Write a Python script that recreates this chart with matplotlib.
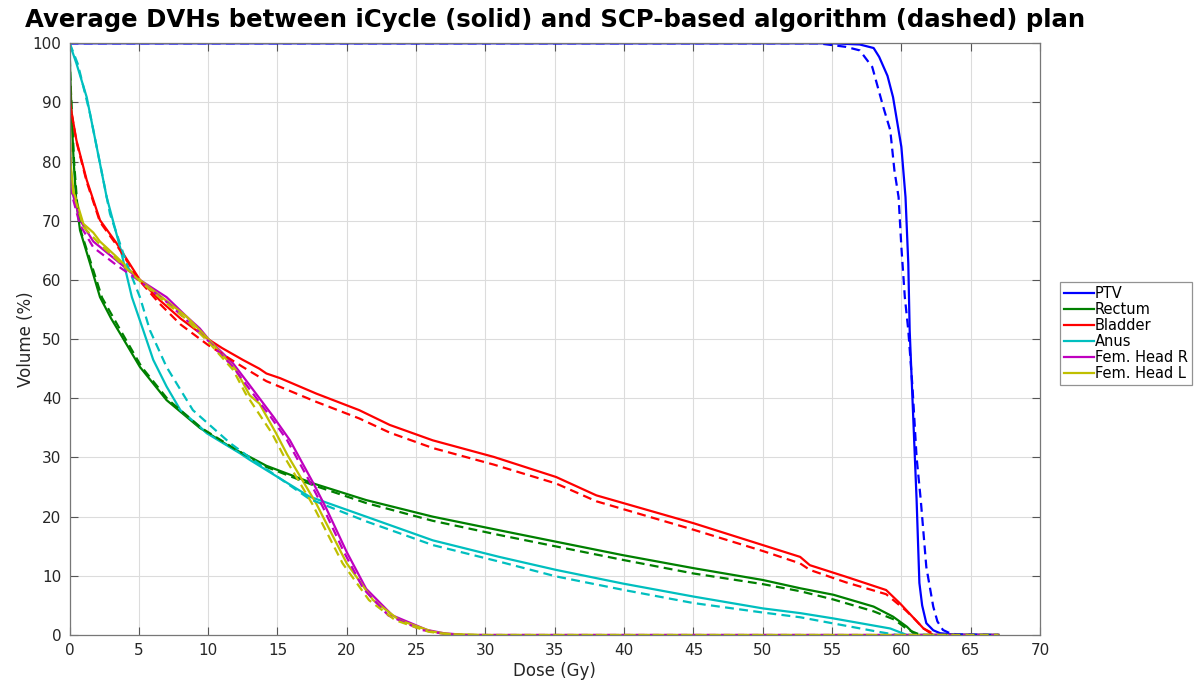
import matplotlib
matplotlib.use("Agg")
import matplotlib.pyplot as plt

# ---------------- data (dose in Gy, volume in %) ----------------
ptv_solid_x = [0, 55, 57, 58, 58.4, 59.0, 59.4, 60.0, 60.3, 60.5, 60.6, 60.8, 61.1, 61.3, 61.5, 61.8, 62.3, 62.8, 64, 67]
ptv_solid_y = [100, 100, 99.8, 99.2, 97.7, 94.5, 90.9, 82.5, 74, 62.8, 51.5, 40, 22.8, 8.8, 5, 2.0, 0.8, 0.3, 0.05, 0]
ptv_dash_x = [0, 54, 55, 56, 57, 57.9, 58.7, 59.2, 59.5, 59.8, 60.0, 60.25, 60.5, 60.8, 61.1, 61.4, 61.8, 62.3, 62.6, 63.0, 63.5, 64, 67]
ptv_dash_y = [100, 100, 99.7, 99.4, 98.8, 96, 89.2, 85.3, 78.5, 74, 65.6, 57.1, 51.5, 42, 30, 22.8, 11.5, 4.8, 2.3, 0.85, 0.3, 0.1, 0]

rect_solid_x = [0, 0.05, 0.15, 0.3, 0.5, 0.76, 1.48, 2.2, 3.0, 3.64, 5.08, 7.0, 9.4, 11.8, 13.0, 14.2, 17.6, 21.4, 26.2, 31.0, 34.6, 39.9, 45.0, 50.0, 52.7, 55.1, 58.0, 59.4, 60.4, 61.0, 67]
rect_solid_y = [100, 95, 88, 80, 73, 68.4, 62.8, 57.1, 53.5, 51, 45.3, 39.7, 35.0, 31.5, 30.1, 28.6, 25.6, 22.8, 20.0, 17.7, 16.0, 13.5, 11.3, 9.3, 7.9, 6.8, 4.8, 3.1, 1.4, 0, 0]
rect_dash_x = [0, 0.05, 0.17, 0.33, 0.55, 0.85, 1.6, 2.35, 3.8, 5.2, 7.1, 9.5, 11.9, 14.2, 17.6, 21.4, 26.2, 31.0, 34.6, 39.9, 45, 50, 52.7, 55.1, 58, 59.5, 60.5, 61.3, 61.7, 67]
rect_dash_y = [100, 95, 88, 80, 73, 68, 62.5, 57, 51, 45.3, 39.8, 35, 31.5, 28.4, 25.3, 22.3, 19.3, 16.9, 15.2, 12.7, 10.4, 8.6, 7.4, 6.0, 4.0, 2.6, 0.85, 0.1, 0, 0]

blad_solid_x = [0, 0.05, 0.16, 0.5, 1.24, 2.2, 3.4, 5.08, 6.5, 8.0, 10.0, 11.0, 12.5, 13.7, 14.2, 15.2, 17.8, 20.9, 23.1, 26.2, 30.6, 35.1, 38.0, 45, 50, 52.7, 53.4, 56, 58.9, 59.9, 60.8, 61.6, 62.3, 67]
blad_solid_y = [100, 90, 88.2, 83.6, 76.9, 70.1, 66.2, 60.0, 56.6, 53.5, 50.0, 48.5, 46.5, 45.0, 44.2, 43.4, 40.8, 38.0, 35.5, 32.9, 30.1, 26.7, 23.6, 18.9, 15.2, 13.2, 11.8, 9.85, 7.6, 5.35, 3.1, 1.1, 0, 0]
blad_dash_x = [0, 0.05, 0.16, 0.5, 1.24, 2.2, 3.4, 5.08, 6.5, 8.0, 10.0, 12.5, 14.2, 17.8, 20.9, 23.1, 26.2, 30.6, 35.1, 38.0, 45, 50, 52.7, 53.4, 56, 58.9, 60.3, 61.0, 61.6, 62.5, 67]
blad_dash_y = [100, 90, 88, 83.4, 76.6, 69.8, 65.9, 59.8, 56.0, 52.5, 49.0, 45.3, 42.9, 39.4, 36.6, 34.2, 31.6, 28.8, 25.6, 22.6, 17.8, 14.2, 12.1, 11.0, 8.9, 6.9, 4.2, 2.6, 1.1, 0, 0]

anus_solid_x = [0, 0.5, 1.24, 1.96, 2.68, 3.64, 4.5, 5.32, 6.04, 7.0, 8.0, 9.4, 9.9, 12.3, 13.0, 17.3, 21.4, 26.2, 27.4, 31.0, 35.1, 39.9, 45.0, 50.0, 52.7, 55.1, 59.2, 60.4, 67]
anus_solid_y = [100, 96.6, 90.9, 82.5, 74.0, 65.6, 57.1, 51.5, 46.5, 42, 38.0, 35.2, 34.1, 30.7, 29.6, 23.4, 20.0, 16.0, 15.3, 13.2, 11.0, 8.7, 6.5, 4.5, 3.7, 2.8, 1.1, 0, 0]
anus_dash_x = [0, 0.1, 0.6, 1.48, 2.2, 2.92, 4.12, 5.08, 5.8, 7.0, 8.9, 11.6, 13.0, 17.3, 21.4, 26.2, 31.0, 35.1, 40, 45, 50, 52.7, 55.1, 58.2, 59.7, 67]
anus_dash_y = [100, 99.5, 96.5, 88.1, 79.7, 71.2, 62.8, 57.1, 51.5, 45.3, 38.0, 32.4, 30.0, 23.0, 19.2, 15.2, 12.4, 9.9, 7.6, 5.4, 3.8, 3.0, 1.95, 0.6, 0, 0]

femr_solid_x = [0, 0.03, 0.08, 0.16, 0.76, 1.72, 3.4, 5.08, 7.0, 8.45, 9.4, 10.1, 11.8, 13.0, 14.7, 15.9, 17.6, 18.5, 20.0, 21.4, 23.3, 25.8, 27.0, 28.6, 67]
femr_solid_y = [100, 85, 78, 75.2, 70.1, 66.5, 63.3, 60.0, 57.1, 53.8, 51.8, 49.8, 45.9, 42.2, 36.9, 32.9, 25.6, 21.5, 14.0, 7.8, 3.3, 0.85, 0.3, 0, 0]
femr_dash_x = [0, 0.03, 0.08, 0.16, 0.76, 1.72, 3.4, 5.08, 7.0, 8.45, 10.1, 11.8, 13.0, 14.5, 15.7, 17.4, 18.3, 19.8, 21.2, 23.0, 25.4, 27.0, 28.5, 67]
femr_dash_y = [100, 84, 77, 74.5, 69.3, 65.5, 62.5, 59.8, 56.3, 53.2, 49.5, 45.3, 41.5, 36.9, 32.9, 25.6, 21.5, 14.0, 7.8, 3.3, 0.85, 0.2, 0, 0]

feml_solid_x = [0, 0.03, 0.08, 0.27, 1.0, 1.72, 2.2, 3.4, 5.08, 8.45, 9.4, 10.1, 12.0, 13.0, 13.7, 14.9, 15.7, 17.8, 20.0, 21.9, 23.8, 26.2, 27.5, 29.8, 67]
feml_solid_y = [100, 88, 79.7, 75.2, 69.5, 68.0, 66.5, 63.9, 60.0, 53.8, 51.5, 49.8, 44.8, 40.5, 39.1, 34.1, 30.5, 22.2, 12.1, 5.9, 2.5, 0.55, 0.15, 0, 0]
feml_dash_x = [0, 0.03, 0.08, 0.27, 1.0, 2.2, 3.4, 5.08, 8.45, 10.1, 11.8, 12.7, 14.6, 15.4, 17.5, 19.7, 21.6, 23.5, 25.9, 27.2, 29.5, 67]
feml_dash_y = [100, 87, 79, 74.8, 69.0, 66.0, 63.5, 59.8, 53.3, 49.3, 44.8, 40.8, 34.1, 30.5, 22.2, 12.1, 5.9, 2.5, 0.55, 0.15, 0, 0]

names = ["PTV", "Rectum", "Bladder", "Anus", "Fem. Head R", "Fem. Head L"]
colors = ["#0000ff", "#008000", "#ff0000", "#00bfbf", "#bf00bf", "#bfbf00"]
solid = [(ptv_solid_x, ptv_solid_y), (rect_solid_x, rect_solid_y), (blad_solid_x, blad_solid_y),
         (anus_solid_x, anus_solid_y), (femr_solid_x, femr_solid_y), (feml_solid_x, feml_solid_y)]
dashed = [(ptv_dash_x, ptv_dash_y), (rect_dash_x, rect_dash_y), (blad_dash_x, blad_dash_y),
          (anus_dash_x, anus_dash_y), (femr_dash_x, femr_dash_y), (feml_dash_x, feml_dash_y)]

x_ticks = list(range(0, 71, 5))
y_ticks = list(range(0, 101, 10))

# ---------------- figure ----------------
plt.rcParams['font.family'] = ['DejaVu Sans']
fig = plt.figure(figsize=(11.98, 6.81), dpi=100)
ax = fig.add_axes([69.5 / 1198, 46 / 681, (1040 - 69.5) / 1198, (635 - 43.3) / 681])

lw = 1.6
handles = []
for (xs, ys), c, n in zip(solid, colors, names):
    h, = ax.plot(xs, ys, color=c, lw=lw, label=n)
    handles.append(h)
for (xs, ys), c in zip(dashed, colors):
    ax.plot(xs, ys, color=c, lw=lw, linestyle=(0, (4.0, 2.4)))

ax.set_xlim(0, 70)
ax.set_ylim(0, 100)
ax.set_xticks(x_ticks)
ax.set_yticks(y_ticks)
ax.grid(True, color="#dcdcdc", lw=0.8)
ax.set_axisbelow(True)
ax.tick_params(direction="in", length=6, width=0.8, top=True, right=True,
               labelsize=11, colors="#555555", labelcolor="#262626", pad=6)
for s in ax.spines.values():
    s.set_color("#777777")
    s.set_linewidth(0.9)

ax.set_xlabel("Dose (Gy)", fontsize=12, color="#262626", labelpad=3)
ax.set_ylabel("Volume (%)", fontsize=12, color="#262626", labelpad=-2)
fig.text(555 / 1198, 1 - 20 / 681, "Average DVHs between iCycle (solid) and SCP-based algorithm (dashed) plan",
         ha="center", va="center", fontsize=17.6, fontweight="bold", color="black")

leg = fig.legend(handles=handles, loc="upper left", bbox_to_anchor=(1060 / 1198, 1 - 282 / 681),
                 fontsize=10.5, frameon=True, fancybox=False, handlelength=2.0, handletextpad=0.1,
                 labelspacing=0.06, borderpad=0.3, borderaxespad=0)
leg.get_frame().set_edgecolor("#777777")
leg.get_frame().set_linewidth(0.9)

fig.savefig("out.png", dpi=100)
